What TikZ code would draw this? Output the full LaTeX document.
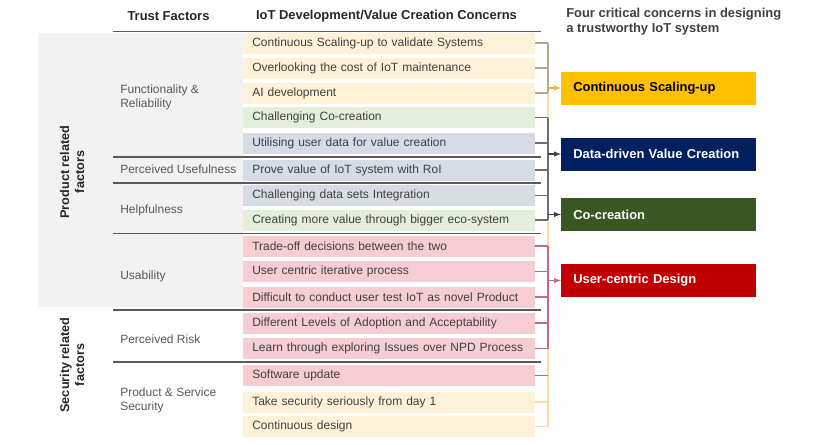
\documentclass[tikz,border=0pt]{standalone}
\usepackage{fontspec}
\setmainfont{Liberation Sans}

\definecolor{rowyel}{HTML}{FFF2D9}
\definecolor{rowgrn}{HTML}{E3EFDA}
\definecolor{rowblu}{HTML}{D6DCE6}
\definecolor{rowred}{HTML}{F5CDD3}
\definecolor{panel}{HTML}{F2F2F2}
\definecolor{txtgray}{HTML}{404040}
\definecolor{facgray}{HTML}{595959}
\definecolor{headgray}{HTML}{262626}
\definecolor{linegray}{HTML}{5A5A5A}
\definecolor{gold}{HTML}{FFC000}
\definecolor{navy}{HTML}{002060}
\definecolor{leaf}{HTML}{385723}
\definecolor{crimson}{HTML}{C00000}
\definecolor{brtan}{HTML}{B9A48C}
\definecolor{brylw}{HTML}{F8DDA8}
\definecolor{brgray}{HTML}{6E6E6E}
\definecolor{brred}{HTML}{C46A7E}
\definecolor{arrorange}{HTML}{EBB04A}

\begin{document}
\begin{tikzpicture}[x=0.75pt,y=-0.75pt,
    concern/.style={anchor=west,minimum height=15.75pt,text width=205pt,inner xsep=6.75pt,inner ysep=0pt,
      font=\fontsize{9}{10}\selectfont,text=txtgray,align=left},
    factor/.style={anchor=west,align=left,inner sep=0pt,font=\fontsize{9}{10.5}\selectfont,text=facgray},
    critical/.style={anchor=west,minimum height=24.75pt,text width=128pt,inner xsep=9pt,inner ysep=0pt,
      font=\fontsize{9.7}{11}\selectfont\bfseries,align=left},
    header/.style={inner sep=0pt,font=\fontsize{9.7}{11}\selectfont\bfseries,text=headgray},
    divider/.style={draw=linegray,line width=0.9pt},
    tick/.style={line width=0.8pt}]
    \useasboundingbox (0,0) rectangle (825,444);

    % product related panel
    \fill[panel] (38,33) rectangle (243,307);

    % column headers
    \node[header] (hfac) at (168.5,16) {Trust Factors};
    \node[header] (hcon) at (386.5,16) {IoT Development/Value Creation Concerns};
    \node[header,anchor=west,align=left,text=txtgray,font=\fontsize{9.7}{11.25}\selectfont\bfseries] (htitle) at (566,22)
        {Four critical concerns in designing\\a trustworthy IoT system};
    \draw[divider,line width=1.2pt] (113,31.5) -- (541,31.5);

    % side groups
    \node[rotate=90,align=center,inner sep=0pt,font=\fontsize{9.5}{11.25}\selectfont\bfseries,text=headgray] (prod) at (72,172)
        {Product related\\factors};
    \node[rotate=90,align=center,inner sep=0pt,font=\fontsize{9.5}{11.25}\selectfont\bfseries,text=headgray] (secu) at (72,365)
        {Security related\\factors};

    % trust factors
    \node[factor] (f1) at (120,97) {Functionality \&\\Reliability};
    \node[factor] (f2) at (120,169) {Perceived Usefulness};
    \node[factor] (f3) at (120,210) {Helpfulness};
    \node[factor] (f4) at (120,276) {Usability};
    \node[factor] (f5) at (120,339) {Perceived Risk};
    \node[factor] (f6) at (120,400) {Product \& Service\\Security};

    % concerns
    \node[concern,fill=rowyel] (c1) at (243,43) {Continuous Scaling-up to validate Systems};
    \node[concern,fill=rowyel] (c2) at (243,68) {Overlooking the cost of IoT maintenance};
    \node[concern,fill=rowyel] (c3) at (243,93) {AI development};
    \node[concern,fill=rowgrn] (c4) at (243,117.5) {Challenging Co-creation};
    \node[concern,fill=rowblu] (c5) at (243,143) {Utilising user data for value creation};
    \node[concern,fill=rowblu] (c6) at (243,170) {Prove value of IoT system with RoI};
    \node[concern,fill=rowblu] (c7) at (243,195.5) {Challenging data sets Integration};
    \node[concern,fill=rowgrn] (c8) at (243,220) {Creating more value through bigger eco-system};
    \node[concern,fill=rowred] (c9) at (243,246) {Trade-off decisions between the two};
    \node[concern,fill=rowred] (c10) at (243,271.5) {User centric iterative process};
    \node[concern,fill=rowred] (c11) at (243,297) {Difficult to conduct user test IoT as novel Product};
    \node[concern,fill=rowred] (c12) at (243,323) {Different Levels of Adoption and Acceptability};
    \node[concern,fill=rowred] (c13) at (243,348.5) {Learn through exploring Issues over NPD Process};
    \node[concern,fill=rowred] (c14) at (243,375.5) {Software update};
    \node[concern,fill=rowyel] (c15) at (243,402) {Take security seriously from day 1};
    \node[concern,fill=rowyel] (c16) at (243,426.5) {Continuous design};

    % dividers between trust factors
    \draw[divider] (113,157) -- (541,157);
    \draw[divider] (113,183) -- (541,183);
    \draw[divider] (113,233.5) -- (541,233.5);
    \draw[divider] (113,310) -- (541,310);
    \draw[divider] (113,362) -- (541,362);

    % four critical concerns
    \node[critical,fill=gold,text=black] (scale) at (561,88) {Continuous Scaling-up};
    \node[critical,fill=navy,text=white] (data) at (561,154) {Data-driven Value Creation};
    \node[critical,fill=leaf,text=white] (cocr) at (561,214.5) {Co-creation};
    \node[critical,fill=crimson,text=white] (user) at (561,280.5) {User-centric Design};

    % brackets
    \coordinate (sp) at (548,0);
    \draw[tick,brylw] (c1.east -| sp) -- (c16.east -| sp);
    \draw[tick,brylw] (c15.east) -- (c15.east -| sp);
    \draw[tick,brylw] (c16.east) -- (c16.east -| sp);
    \draw[tick,brtan] (c1.east -| sp) -- (c3.east -| sp);
    \draw[tick,brtan] (c1.east) -- (c1.east -| sp);
    \draw[tick,brtan] (c2.east) -- (c2.east -| sp);
    \draw[tick,brtan] (c3.east) -- (c3.east -| sp);
    \draw[tick,brgray] (c4.east -| sp) -- (c8.east -| sp);
    \draw[tick,brgray] (c4.east) -- (c4.east -| sp);
    \draw[tick,brgray] (c5.east) -- (c5.east -| sp);
    \draw[tick,brgray] (c6.east) -- (c6.east -| sp);
    \draw[tick,brgray] (c7.east) -- (c7.east -| sp);
    \draw[tick,brgray] (c8.east) -- (c8.east -| sp);
    \draw[tick,brred] (c9.east -| sp) -- (c13.east -| sp);
    \draw[tick,brred] (c9.east) -- (c9.east -| sp);
    \draw[tick,brred] (c10.east) -- (c10.east -| sp);
    \draw[tick,brred] (c11.east) -- (c11.east -| sp);
    \draw[tick,brred] (c12.east) -- (c12.east -| sp);
    \draw[tick,brred] (c13.east) -- (c13.east -| sp);
    \draw[tick,brred] (c14.east) -- (c14.east -| sp);

    % arrows into the critical concerns
    \draw[tick,arrorange,-latex] (scale.west -| sp) -- (scale.west);
    \draw[tick,txtgray,-latex] (data.west -| sp) -- (data.west);
    \draw[tick,txtgray,-latex] (cocr.west -| sp) -- (cocr.west);
    \draw[tick,brred,-latex] (user.west -| sp) -- (user.west);
\end{tikzpicture}
\end{document}
